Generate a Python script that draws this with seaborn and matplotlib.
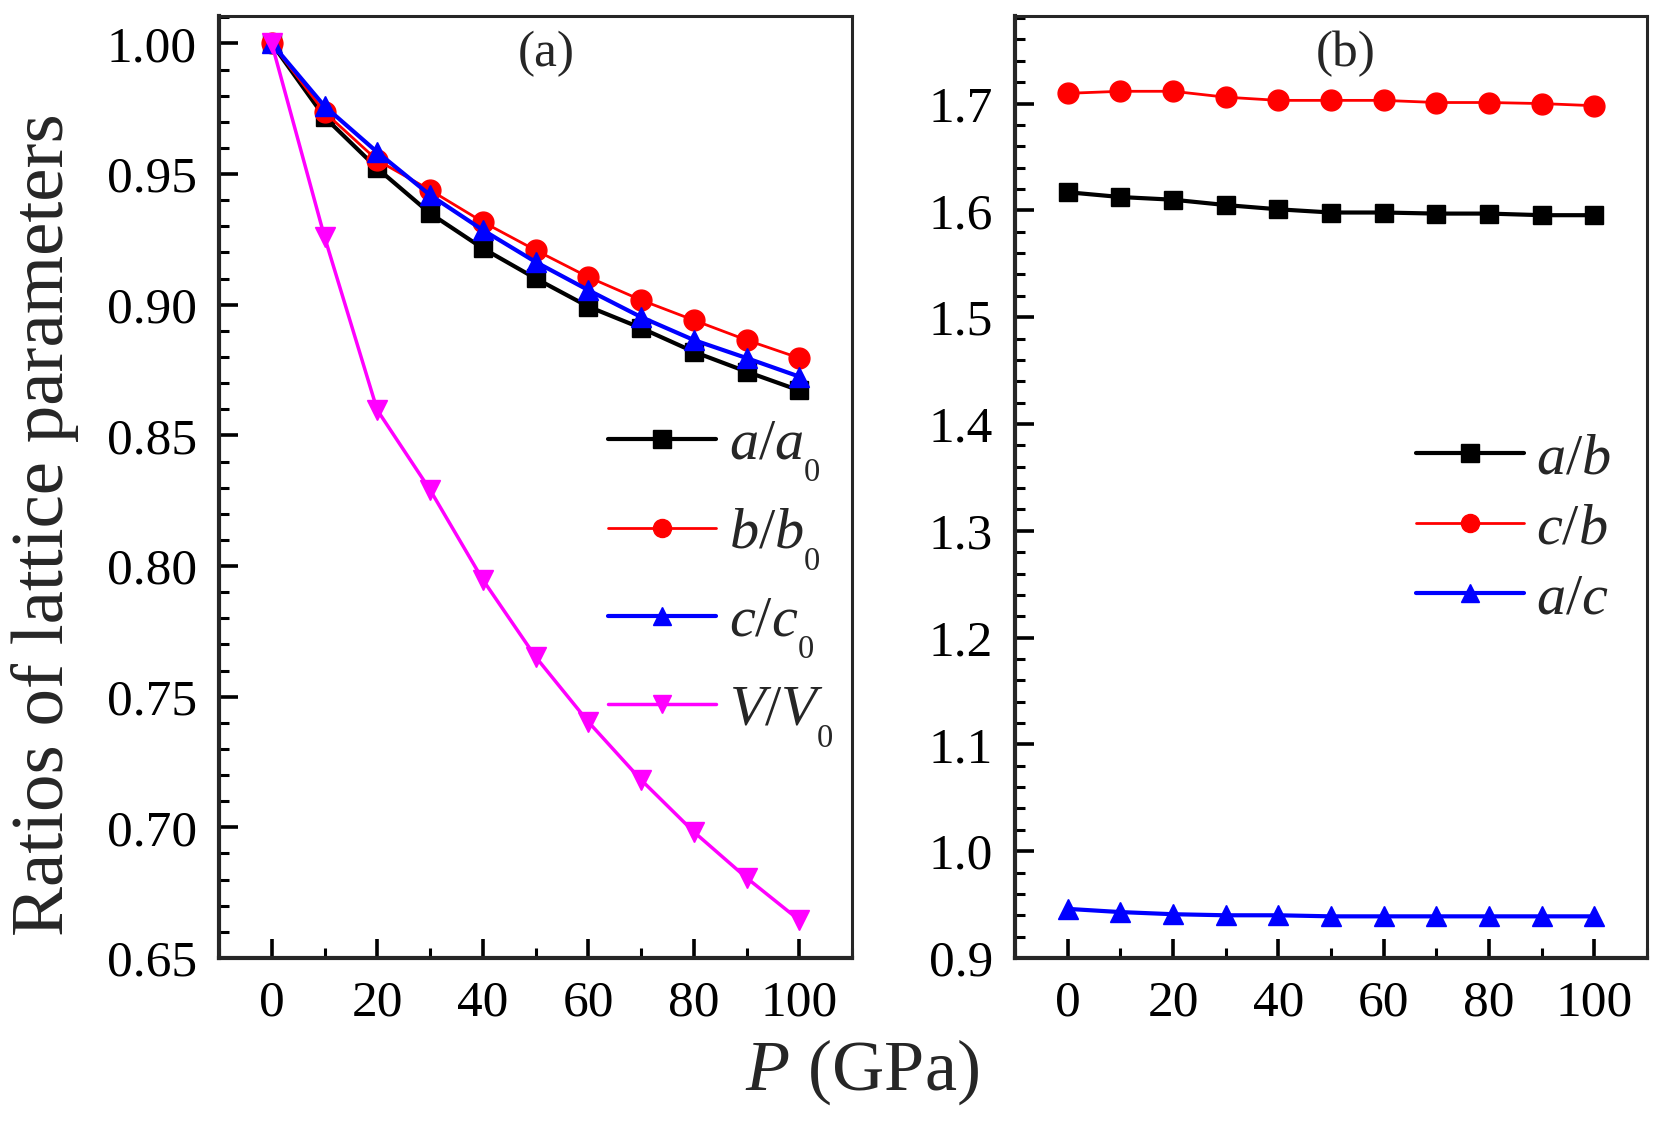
import numpy as np
import pandas as pd
import matplotlib
matplotlib.use("Agg")
import matplotlib.pyplot as plt
import seaborn as sns
from matplotlib.ticker import MultipleLocator, FormatStrFormatter

# subscript look closer to the reference (smaller, lower "0")
try:
    import matplotlib._mathtext as _mt
    _mt.SHRINK_FACTOR = 0.56
    _mt.FontConstantsBase.sub1 = 0.85
    _mt.FontConstantsBase.subdrop = 0.85
except Exception:
    pass

# ---------------- data ----------------
pressure = [0, 10, 20, 30, 40, 50, 60, 70, 80, 90, 100]

a_a0 = [1.000, 0.9718, 0.9522, 0.9350, 0.9216, 0.9101, 0.8993, 0.8911, 0.8820, 0.8744, 0.8672]
b_b0 = [1.000, 0.9737, 0.9553, 0.9439, 0.9317, 0.9209, 0.9106, 0.9018, 0.8941, 0.8865, 0.8796]
c_c0 = [1.000, 0.9760, 0.9584, 0.9420, 0.9286, 0.9164, 0.9056, 0.8953, 0.8865, 0.8796, 0.8725]
V_V0 = [1.000, 0.9260, 0.8597, 0.8292, 0.7948, 0.7653, 0.7404, 0.7182, 0.6983, 0.6807, 0.6645]

a_b = [1.617, 1.6125, 1.610, 1.605, 1.601, 1.598, 1.598, 1.597, 1.597, 1.5955, 1.5955]
c_b = [1.7096, 1.7115, 1.7115, 1.706, 1.703, 1.703, 1.703, 1.701, 1.701, 1.700, 1.698]
a_c = [0.946, 0.943, 0.941, 0.940, 0.940, 0.939, 0.939, 0.939, 0.939, 0.939, 0.939]

labels_a = [r"$a/a_0$", r"$b/b_0$", r"$c/c_0$", r"$V/V_0$"]
labels_b = [r"$a/b$", r"$c/b$", r"$a/c$"]

# ---------------- style ----------------
sns.set_theme(style="ticks")
plt.rcParams["font.family"] = ["Liberation Serif", "DejaVu Serif"]
plt.rcParams["mathtext.fontset"] = "custom"
plt.rcParams["mathtext.rm"] = "Liberation Serif"
plt.rcParams["mathtext.it"] = "Liberation Serif:italic"
plt.rcParams["mathtext.bf"] = "Liberation Serif:bold"

fig = plt.figure(figsize=(16.6, 11.25), dpi=100)
ax1 = fig.add_axes([219 / 1660, 1 - 958 / 1125, 633 / 1660, 942 / 1125])
ax2 = fig.add_axes([1015 / 1660, 1 - 958 / 1125, 632 / 1660, 942 / 1125])

styles_a = [
    (a_a0, "#000000", "s", 3.0, 13),
    (b_b0, "#FF0000", "o", 2.0, 15),
    (c_c0, "#0000FF", "^", 3.0, 15),
    (V_V0, "#FF00FF", "v", 2.5, 15),
]
for (vals, col, mk, lw, ms), lab in zip(styles_a, labels_a):
    sns.lineplot(x=pressure, y=vals, ax=ax1, color=col, marker=mk, lw=lw,
                 ms=ms, mec=col, mfc=col, mew=1, label=lab)

styles_b = [
    (a_b, "#000000", "s", 3.0, 13),
    (c_b, "#FF0000", "o", 2.0, 15),
    (a_c, "#0000FF", "^", 3.0, 15),
]
for (vals, col, mk, lw, ms), lab in zip(styles_b, labels_b):
    sns.lineplot(x=pressure, y=vals, ax=ax2, color=col, marker=mk, lw=lw,
                 ms=ms, mec=col, mfc=col, mew=1, label=lab)

# ---------------- axes ----------------
ax1.set_xlim(-10, 110)
ax1.set_ylim(0.65, 1.0105)
ax1.yaxis.set_major_locator(MultipleLocator(0.05))
ax1.yaxis.set_minor_locator(MultipleLocator(0.01))
ax1.yaxis.set_major_formatter(FormatStrFormatter("%.2f"))

ax2.set_xlim(-10, 110)
ax2.set_ylim(0.9, 1.782)
ax2.yaxis.set_major_locator(MultipleLocator(0.1))
ax2.yaxis.set_minor_locator(MultipleLocator(0.02))
ax2.yaxis.set_major_formatter(FormatStrFormatter("%.1f"))

for ax in (ax1, ax2):
    ax.xaxis.set_major_locator(MultipleLocator(20))
    ax.xaxis.set_minor_locator(MultipleLocator(10))
    ax.set_xlabel("")
    ax.set_ylabel("")
    for s in ("left", "bottom"):
        ax.spines[s].set_linewidth(3.0)
    for s in ("top", "right"):
        ax.spines[s].set_linewidth(2.2)
        ax.spines[s].set_visible(True)
    ax.tick_params(which="both", direction="in", top=False, right=False,
                   colors="black")
    ax.tick_params(which="major", length=14, width=2.6, labelsize=37, pad=16)
    ax.tick_params(which="minor", length=7.5, width=2.2)
    for lbl in ax.get_xticklabels() + ax.get_yticklabels():
        lbl.set_family(["Liberation Serif", "DejaVu Serif"])
    ax.set_facecolor("white")

ax1.text(0.517, 0.96, "(a)", transform=ax1.transAxes, fontsize=37,
         ha="center", va="center")
ax2.text(0.524, 0.96, "(b)", transform=ax2.transAxes, fontsize=37,
         ha="center", va="center")

leg1 = ax1.legend(loc="upper left", bbox_to_anchor=(0.615, 0.573), frameon=False,
                  fontsize=42, handlelength=1.85, handletextpad=0.22,
                  labelspacing=0.40, borderpad=0, borderaxespad=0)
leg2 = ax2.legend(loc="upper left", bbox_to_anchor=(0.634, 0.558), frameon=False,
                  fontsize=42, handlelength=1.85, handletextpad=0.22,
                  labelspacing=0.3, borderpad=0, borderaxespad=0)
for leg in (leg1, leg2):
    for h in leg.legend_handles:
        h.set_markersize(13)

fig.text(0.027, 0.534, "Ratios of lattice parameters", rotation=90,
         fontsize=54, ha="center", va="center")
fig.text(0.519, 0.047, r"$P$ (GPa)", fontsize=52, ha="center", va="center")

fig.savefig("out.png", dpi=100, facecolor="white")
